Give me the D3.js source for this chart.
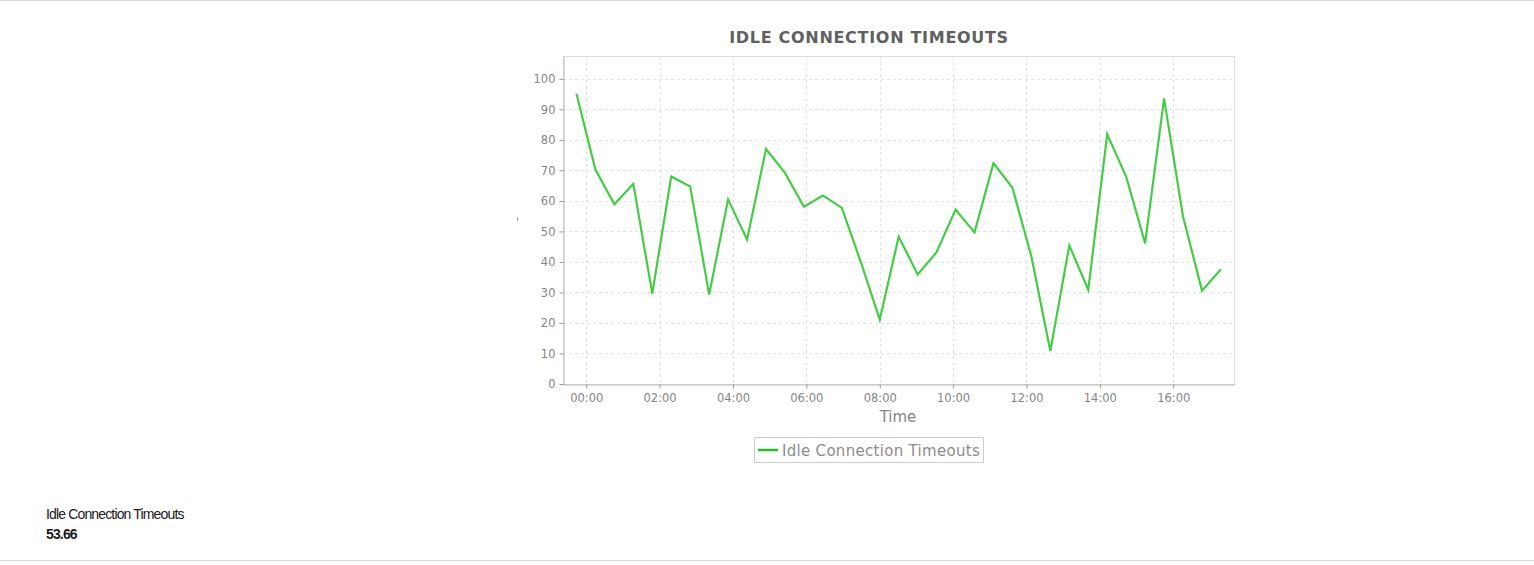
<!DOCTYPE html>
<html>
<head>
<meta charset="utf-8">
<script src="https://cdn.jsdelivr.net/npm/d3@7"></script>
<style>
  html, body { margin: 0; padding: 0; background: #fff; }
  svg { display: block; }
</style>
</head>
<body>
<svg id="chart" width="1534" height="565"></svg>
<script>
const chartTitle = "IDLE CONNECTION TIMEOUTS";
const seriesName = "Idle Connection Timeouts";
const xAxisTitle = "Time";
const summaryValue = "53.66";

const times = [
  "2024-01-01 23:44", "2024-01-02 00:15", "2024-01-02 00:46", "2024-01-02 01:17",
  "2024-01-02 01:48", "2024-01-02 02:19", "2024-01-02 02:50", "2024-01-02 03:21",
  "2024-01-02 03:52", "2024-01-02 04:23", "2024-01-02 04:54", "2024-01-02 05:25",
  "2024-01-02 05:56", "2024-01-02 06:27", "2024-01-02 06:58", "2024-01-02 07:29",
  "2024-01-02 08:00", "2024-01-02 08:31", "2024-01-02 09:02", "2024-01-02 09:33",
  "2024-01-02 10:04", "2024-01-02 10:35", "2024-01-02 11:06", "2024-01-02 11:37",
  "2024-01-02 12:08", "2024-01-02 12:39", "2024-01-02 13:10", "2024-01-02 13:41",
  "2024-01-02 14:12", "2024-01-02 14:43", "2024-01-02 15:14", "2024-01-02 15:45",
  "2024-01-02 16:16", "2024-01-02 16:47", "2024-01-02 17:18"
];
const values = [
  95.1, 70.3, 58.9, 65.6, 29.6, 68.0, 64.7, 29.3, 60.5, 47.3,
  77.0, 69.2, 58.1, 61.8, 57.7, 40.0, 21.1, 48.3, 35.9, 43.2,
  57.2, 49.7, 72.4, 64.3, 41.8, 10.8, 45.4, 30.9, 81.8, 68.0,
  46.1, 93.6, 54.9, 30.6, 37.6
];
const yTicks = [0, 10, 20, 30, 40, 50, 60, 70, 80, 90, 100];
const xTickLabels = ["00:00", "02:00", "04:00", "06:00", "08:00", "10:00", "12:00", "14:00", "16:00"];
const xDomain = ["2024-01-01 23:22", "2024-01-02 17:41"];
const yDomain = [0, 107.5];

const parse = d3.timeParse("%Y-%m-%d %H:%M");
const data = times.map((t, i) => ({ t: parse(t), v: values[i] }));

const plot = { left: 563, top: 56, right: 1235, bottom: 384 };
const svg = d3.select("#chart");
const font = "DejaVu Sans, sans-serif";

// page borders
svg.append("rect").attr("x", 0).attr("y", 560).attr("width", 1534).attr("height", 5).attr("fill", "#fafafa");
svg.append("line").attr("x1", 0).attr("x2", 1534).attr("y1", 0.5).attr("y2", 0.5).attr("stroke", "#dcdcdc");
svg.append("line").attr("x1", 0).attr("x2", 1534).attr("y1", 560.5).attr("y2", 560.5).attr("stroke", "#dcdcdc");

const x = d3.scaleTime().domain(xDomain.map(parse)).range([plot.left, plot.right]);
const y = d3.scaleLinear().domain(yDomain).range([plot.bottom, plot.top]);

const xTickDates = xTickLabels.map(s => parse("2024-01-02 " + s));

// grid
const grid = svg.append("g");
grid.selectAll(".gx").data(xTickDates).join("line")
  .attr("x1", d => Math.round(x(d)) + 0.5).attr("x2", d => Math.round(x(d)) + 0.5)
  .attr("y1", plot.top).attr("y2", plot.bottom)
  .attr("stroke", "#e2e2e2").attr("stroke-dasharray", "3,3");
grid.selectAll(".gy").data(yTicks.filter(d => d > 0)).join("line")
  .attr("x1", plot.left).attr("x2", plot.right)
  .attr("y1", d => Math.round(y(d)) + 0.5).attr("y2", d => Math.round(y(d)) + 0.5)
  .attr("stroke", "#e2e2e2").attr("stroke-dasharray", "3,3");

// frame
svg.append("rect")
  .attr("x", plot.left + 0.5).attr("y", plot.top + 0.5)
  .attr("width", plot.right - plot.left - 1).attr("height", plot.bottom - plot.top)
  .attr("fill", "none").attr("stroke", "#dddddd");

// axes
const yAxis = d3.axisLeft(y).tickValues(yTicks).tickSize(4).tickSizeOuter(0).tickPadding(4);
const gy = svg.append("g").attr("transform", `translate(${plot.left + 0.5},0)`).call(yAxis);
const xAxis = d3.axisBottom(x).tickValues(xTickDates).tickFormat(d3.timeFormat("%H:%M"))
  .tickSize(4).tickSizeOuter(0).tickPadding(5);
const gx = svg.append("g").attr("transform", `translate(0,${plot.bottom + 0.5})`).call(xAxis);
[gx, gy].forEach(g => {
  g.select(".domain").attr("stroke", "#bbbbbb");
  g.selectAll(".tick line").attr("stroke", "#999999");
  g.selectAll(".tick text").attr("fill", "#858585").attr("font-family", font).attr("font-size", 11.5);
});

// line
const line = d3.line().x(d => x(d.t)).y(d => y(d.v));
svg.append("path").datum(data)
  .attr("d", line).attr("fill", "none")
  .attr("stroke", "#44cc44").attr("stroke-width", 2.2).attr("stroke-linejoin", "miter");

// title
svg.append("text").attr("x", 869).attr("y", 43).attr("text-anchor", "middle")
  .attr("font-family", font).attr("font-weight", "bold").attr("font-size", 16)
  .attr("letter-spacing", "0.7").attr("fill", "#606060").text(chartTitle);

// y axis label placeholder
svg.append("text").attr("transform", "translate(520,219) rotate(-90)").attr("text-anchor", "middle")
  .attr("font-family", font).attr("font-size", 11).attr("fill", "#666").text("-");

// x axis title
svg.append("text").attr("x", 898).attr("y", 422).attr("text-anchor", "middle")
  .attr("font-family", font).attr("font-size", 15).attr("fill", "#858585").text(xAxisTitle);

// legend
const lg = svg.append("g");
lg.append("rect").attr("x", 754.5).attr("y", 437.5).attr("width", 229).attr("height", 25)
  .attr("fill", "#fff").attr("stroke", "#cccccc");
lg.append("line").attr("x1", 758).attr("x2", 778).attr("y1", 450).attr("y2", 450)
  .attr("stroke", "#22bb22").attr("stroke-width", 2.5);
lg.append("text").attr("x", 782).attr("y", 455.5)
  .attr("font-family", font).attr("font-size", 15).attr("letter-spacing", "0.3")
  .attr("fill", "#8c8c8c").text(seriesName);

// summary
svg.append("text").attr("x", 46).attr("y", 519)
  .attr("font-family", "Liberation Sans, Arial, sans-serif").attr("font-size", 14)
  .attr("letter-spacing", "-0.85").attr("fill", "#1a1a1a").text(seriesName);
svg.append("text").attr("x", 46).attr("y", 539)
  .attr("font-family", "Liberation Sans, Arial, sans-serif").attr("font-size", 14).attr("font-weight", "bold")
  .attr("letter-spacing", "-0.85").attr("fill", "#1a1a1a").text(summaryValue);
</script>
</body>
</html>
